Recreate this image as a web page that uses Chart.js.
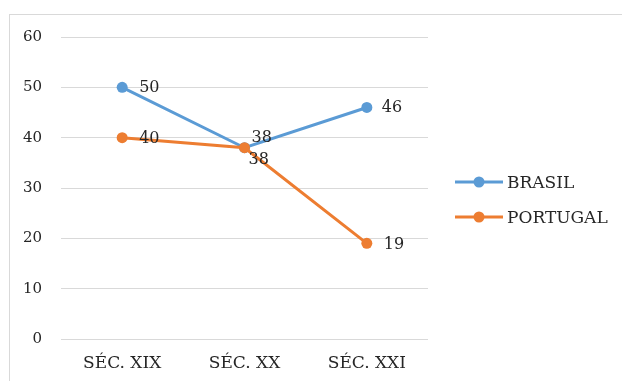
<!DOCTYPE html>
<html>
<head>
<meta charset="utf-8">
<script src="https://cdn.jsdelivr.net/npm/chart.js@4/dist/chart.umd.min.js"></script>
<style>
  html, body { margin: 0; padding: 0; background: #fff; overflow: hidden; }
  #frame { position: absolute; left: 9px; top: 14px; width: 700px; height: 500px;
           border-left: 1px solid #d9d9d9; border-top: 1px solid #d9d9d9; }
  #wrap { position: absolute; left: 0; top: 0; width: 622px; height: 381px; }
</style>
</head>
<body>
<div id="frame"></div>
<div id="wrap"><canvas id="c" width="622" height="381"></canvas></div>
<script>
// Categories and series
const categories = ['SÉC. XIX', 'SÉC. XX', 'SÉC. XXI'];
const brasil = [50, 38, 46];
const portugal = [40, 38, 19];
const yTicks = [0, 10, 20, 30, 40, 50, 60];

const BLUE = '#5B9BD5';
const ORANGE = '#ED7D31';
const FONT = "'DejaVu Serif', 'Liberation Serif', serif";
const TEXT = '#262626';

// Offsets of each value label from its point: [dx to text start, dy to text centre]
const labelOffsets = {
  BRASIL:   [[17, 1], [7, -10], [15, 0]],
  PORTUGAL: [[17, 1], [4, 12], [17, 1]]
};

// Value labels next to each point
const valueLabels = {
  id: 'valueLabels',
  afterDatasetsDraw(chart) {
    const ctx = chart.ctx;
    ctx.save();
    ctx.font = '16px ' + FONT;
    ctx.fillStyle = TEXT;
    ctx.textAlign = 'left';
    ctx.textBaseline = 'middle';
    chart.data.datasets.forEach((ds, i) => {
      const meta = chart.getDatasetMeta(i);
      meta.data.forEach((pt, j) => {
        const off = labelOffsets[ds.label][j];
        ctx.fillText(String(ds.data[j]), pt.x + off[0], pt.y + off[1]);
      });
    });
    ctx.restore();
  }
};

// Legend on the right: line with a marker, then the series name
const sideLegend = {
  id: 'sideLegend',
  afterDraw(chart) {
    const ctx = chart.ctx;
    const x0 = 455, x1 = 503, rows = [182, 217];
    ctx.save();
    chart.data.datasets.forEach((ds, i) => {
      const y = rows[i];
      ctx.strokeStyle = ds.borderColor;
      ctx.lineWidth = 3;
      ctx.beginPath();
      ctx.moveTo(x0, y);
      ctx.lineTo(x1, y);
      ctx.stroke();
      ctx.fillStyle = ds.backgroundColor;
      ctx.beginPath();
      ctx.arc((x0 + x1) / 2, y, 5.5, 0, Math.PI * 2);
      ctx.fill();
      ctx.font = '17px ' + FONT;
      ctx.fillStyle = TEXT;
      ctx.textAlign = 'left';
      ctx.textBaseline = 'middle';
      ctx.fillText(ds.label, x1 + 4, y + 2);
    });
    ctx.restore();
  }
};

new Chart(document.getElementById('c'), {
  type: 'line',
  data: {
    labels: categories,
    datasets: [
      { label: 'BRASIL', data: brasil, borderColor: BLUE, backgroundColor: BLUE,
        borderWidth: 3, pointRadius: 5.5, pointHoverRadius: 5.5, pointBorderWidth: 0, order: 1 },
      { label: 'PORTUGAL', data: portugal, borderColor: ORANGE, backgroundColor: ORANGE,
        borderWidth: 3, pointRadius: 5.5, pointHoverRadius: 5.5, pointBorderWidth: 0, order: 0 }
    ]
  },
  options: {
    responsive: false,
    animation: false,
    events: [],
    layout: { padding: { left: 10, top: 37, right: 194, bottom: 0 } },
    plugins: { legend: { display: false }, tooltip: { enabled: false } },
    scales: {
      x: {
        offset: true,
        grid: { display: false, drawTicks: false },
        border: { display: false },
        ticks: { color: TEXT, font: { family: FONT, size: 17 }, padding: 14, maxRotation: 0 },
        afterFit(s) { s.height = 42; }
      },
      y: {
        min: 0, max: 60,
        afterBuildTicks(s) { s.ticks = yTicks.map(v => ({ value: v })); },
        grid: { color: '#d9d9d9', lineWidth: 1, drawTicks: false },
        border: { display: false },
        ticks: { color: TEXT, font: { family: FONT, size: 15 }, padding: 19 },
        afterFit(s) { s.width = 51; }
      }
    }
  },
  plugins: [valueLabels, sideLegend]
});
</script>
</body>
</html>
